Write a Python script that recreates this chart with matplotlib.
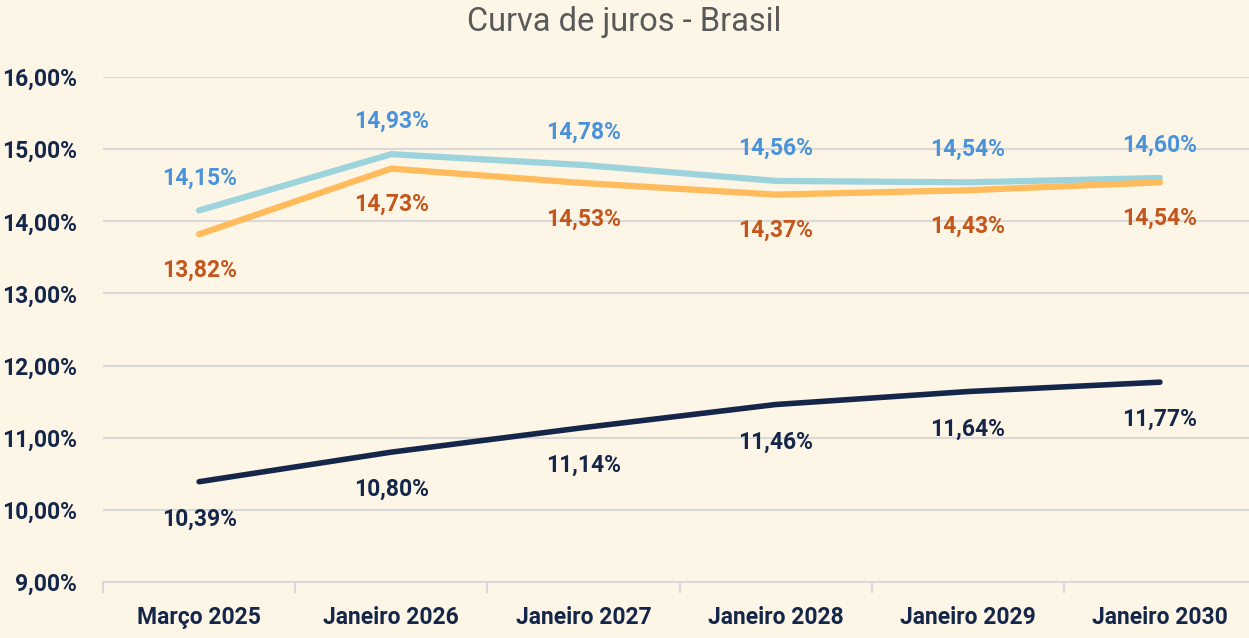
import numpy as np
import matplotlib.pyplot as plt

categories = ["Março 2025", "Janeiro 2026", "Janeiro 2027", "Janeiro 2028", "Janeiro 2029", "Janeiro 2030"]
serie_azul = [14.15, 14.93, 14.78, 14.56, 14.54, 14.60]
serie_laranja = [13.82, 14.73, 14.53, 14.37, 14.43, 14.54]
serie_escura = [10.39, 10.80, 11.14, 11.46, 11.64, 11.77]
yticks = [9, 10, 11, 12, 13, 14, 15, 16]

bg = "#FDF6E6"
plt.rcParams["font.family"] = ["Roboto", "DejaVu Sans"]

fig = plt.figure(figsize=(12.49, 6.38), dpi=100, facecolor=bg)
ax = fig.add_axes([103 / 1249, 56 / 638, 1153 / 1249, 505 / 638], facecolor=bg)

x = np.arange(len(categories))
ax.plot(x, serie_azul, color="#9DD3DC", lw=4.5, solid_capstyle="round", zorder=3)
ax.plot(x, serie_laranja, color="#FFBB5C", lw=4.5, solid_capstyle="round", zorder=3)
ax.plot(x, serie_escura, color="#14274A", lw=4, solid_capstyle="round", zorder=3)

def fmt(v):
    return f"{v:.2f}".replace(".", ",") + "%"

for xi, v in zip(x, serie_azul):
    ax.annotate(fmt(v), (xi, v), xytext=(0, 23.5), textcoords="offset points",
                ha="center", va="center", color="#4A93DA", fontsize=16.5, fontweight="bold")
for xi, v in zip(x, serie_laranja):
    ax.annotate(fmt(v), (xi, v), xytext=(0, -26), textcoords="offset points",
                ha="center", va="center", color="#C4561C", fontsize=16.5, fontweight="bold")
for xi, v in zip(x, serie_escura):
    ax.annotate(fmt(v), (xi, v), xytext=(0, -27), textcoords="offset points",
                ha="center", va="center", color="#14274A", fontsize=16.5, fontweight="bold")

ax.set_xlim(-0.5, len(categories) - 0.5)
ax.set_ylim(9, 16)
ax.set_yticks(yticks)
ax.set_yticklabels([f"{t},00%" for t in yticks])
ax.set_xticks(x)
ax.set_xticklabels(categories)
ax.set_xticks(np.arange(-0.5, len(categories), 1), minor=True)
ax.tick_params(axis="x", which="major", length=0, pad=17, labelsize=16.5, labelcolor="#14274A")
ax.tick_params(axis="x", which="minor", length=8, color="#D9D9D9", width=1.5)
ax.tick_params(axis="y", length=0, pad=19, labelsize=16.5, labelcolor="#14274A")
for lab in ax.get_xticklabels() + ax.get_yticklabels():
    lab.set_fontweight("bold")

ax.grid(axis="y", color="#D9D9D9", lw=1.5)
ax.set_axisbelow(True)
for s in ["top", "right", "left"]:
    ax.spines[s].set_visible(False)
ax.spines["bottom"].set_color("#D9D9D9")
ax.spines["bottom"].set_linewidth(1.5)

fig.text(0.5, 1 - 22 / 638, "Curva de juros - Brasil", ha="center", va="center",
         fontsize=23.5, color="#595959")

fig.savefig("out.png", dpi=100, facecolor=bg)
